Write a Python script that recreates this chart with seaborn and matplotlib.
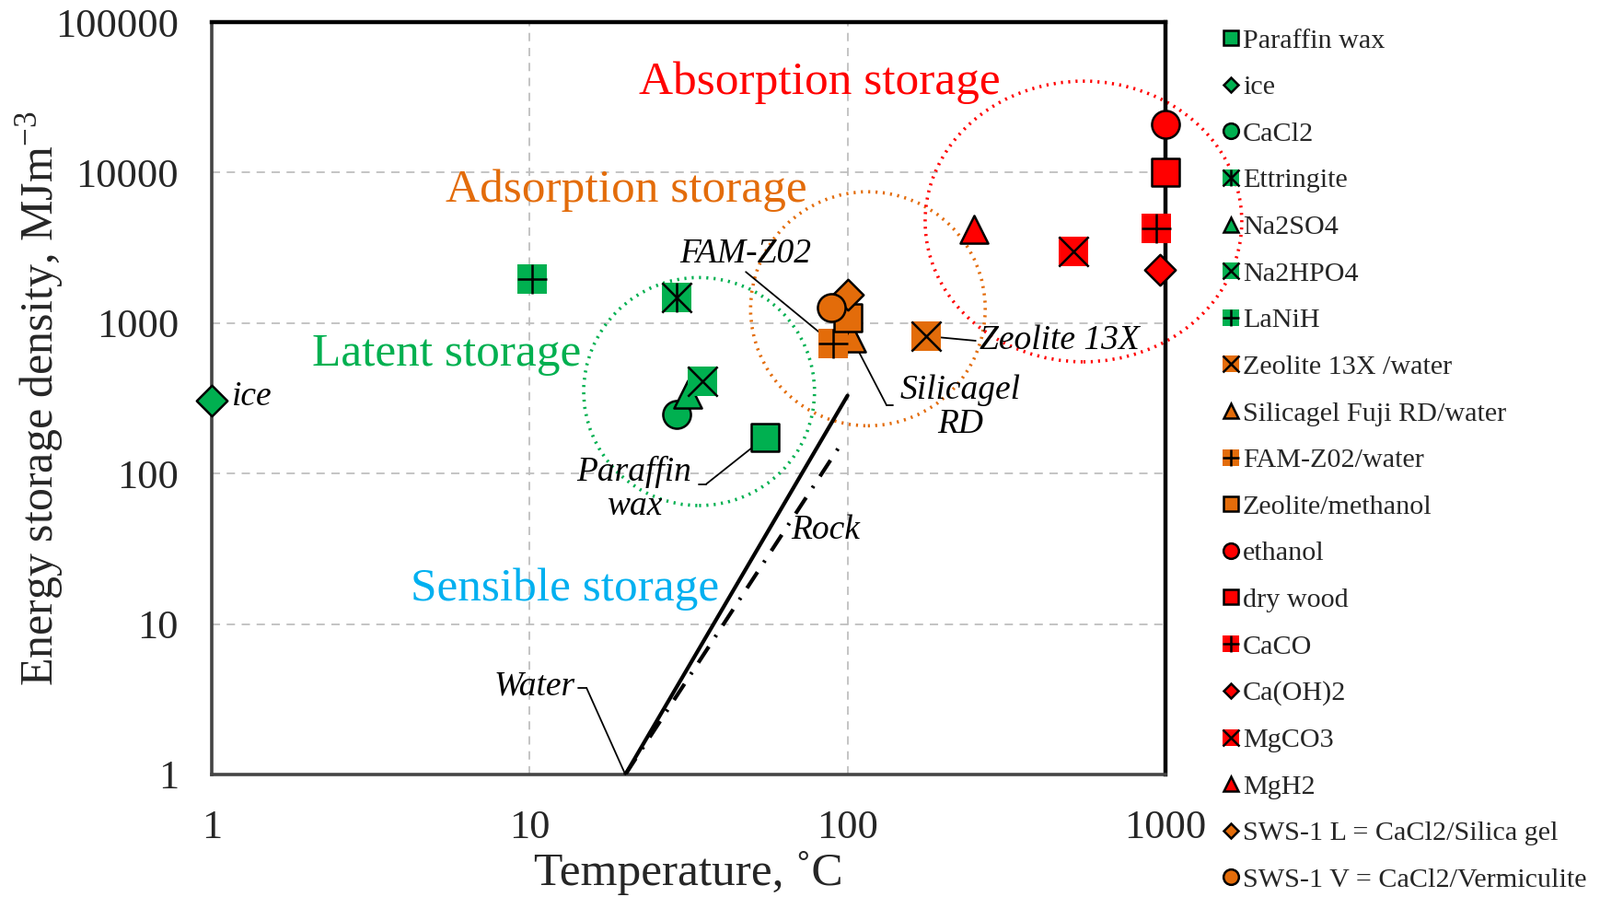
import matplotlib
matplotlib.use("Agg")
import matplotlib.pyplot as plt
import seaborn as sns
import pandas as pd
import numpy as np
from matplotlib.patches import Ellipse
from matplotlib.lines import Line2D
from matplotlib.ticker import FixedLocator, FuncFormatter, NullLocator

# ---------------- data ----------------
names = ["Paraffin wax", "ice", "CaCl2", "Ettringite", "Na2SO4", "Na2HPO4", "LaNiH",
         "Zeolite 13X /water", "Silicagel Fuji RD/water", "FAM-Z02/water", "Zeolite/methanol",
         "ethanol", "dry wood", "CaCO", "Ca(OH)2", "MgCO3", "MgH2",
         "SWS-1 L = CaCl2/Silica gel", "SWS-1 V = CaCl2/Vermiculite"]
temperature = [55, 1, 29, 29, 31.4, 35, 10.2,
               177, 103, 90, 100,
               1000, 1000, 936, 961, 514, 250,
               100, 89]
density = [174, 306, 247, 1480, 337, 410, 1950,
           819, 797, 731, 1085,
           20900, 10050, 4260, 2258, 2994, 4200,
           1545, 1268]
group = ["latent", "latent", "latent", "latent", "latent", "latent", "latent",
         "adsorption", "adsorption", "adsorption", "adsorption",
         "absorption", "absorption", "absorption", "absorption", "absorption", "absorption",
         "adsorption", "adsorption"]
shape = ["square", "diamond", "circle", "square_xv", "triangle", "square_x", "square_plus",
         "square_x", "triangle", "square_plus", "square",
         "circle", "square", "square_plus", "diamond", "square_x", "triangle",
         "diamond", "circle"]

water_T = [20, 100]
water_E = [1, 330]
rock_T = [20, 95]
rock_E = [1, 155]

x_ticks = [1, 10, 100, 1000]
y_ticks = [1, 10, 100, 1000, 10000, 100000]

df = pd.DataFrame({"name": names, "T": temperature, "E": density,
                   "group": group, "shape": shape})

# ---------------- style ----------------
colors = {"latent": "#00B050", "adsorption": "#E36C0A", "absorption": "#FF0000"}
BLUE = "#00B0F0"

sns.set_theme(style="white")
plt.rcParams["font.family"] = ["Liberation Serif", "DejaVu Serif"]
plt.rcParams["mathtext.fontset"] = "custom"
plt.rcParams["mathtext.rm"] = "Liberation Serif"
plt.rcParams["mathtext.it"] = "Liberation Serif:italic"

fig = plt.figure(figsize=(17.38, 9.74), dpi=100)
ax = fig.add_axes([230 / 1738, 1 - 841 / 974, (1266 - 230) / 1738, (841 - 24) / 974])

ax.set_xscale("log")
ax.set_yscale("log")
ax.set_xlim(1, 1000)
ax.set_ylim(1, 100000)

# grid / ticks
ax.xaxis.set_major_locator(FixedLocator(x_ticks))
ax.yaxis.set_major_locator(FixedLocator(y_ticks))
ax.xaxis.set_minor_locator(NullLocator())
ax.yaxis.set_minor_locator(NullLocator())
fmt = FuncFormatter(lambda v, p: f"{int(round(v))}")
ax.xaxis.set_major_formatter(fmt)
ax.yaxis.set_major_formatter(fmt)
ax.grid(True, which="major", color="#BFBFBF", linestyle=(0, (5, 4)), linewidth=1.3)
ax.set_axisbelow(True)
ax.tick_params(axis="both", length=0, labelsize=32)
ax.tick_params(axis="y", pad=26)
ax.tick_params(axis="x", pad=27)

for side in ["top", "right"]:
    ax.spines[side].set_color("black")
    ax.spines[side].set_linewidth(3.2)
for side in ["left", "bottom"]:
    ax.spines[side].set_color("#444444")
    ax.spines[side].set_linewidth(2.6)

# sensible storage lines
sns.lineplot(x=water_T, y=water_E, ax=ax, color="black", linewidth=3.0, zorder=3)
sns.lineplot(x=rock_T, y=rock_E, ax=ax, color="black", linewidth=3.0,
             linestyle=(0, (5, 3, 0.6, 3)), zorder=3)

# markers
S = 470
base_marker = {"square": "s", "diamond": "D", "circle": "o", "triangle": "^",
               "square_x": "s", "square_plus": "s", "square_xv": "s"}
size_map = {"square": S, "diamond": 290, "circle": S, "triangle": S,
            "square_x": 540, "square_plus": 540, "square_xv": 540}
overlay_map = {"square_x": ["x"], "square_plus": ["+"], "square_xv": ["x", "|"]}

for i, row in df.iterrows():
    sub = df.iloc[[i]]
    c = colors[row["group"]]
    shp = row["shape"]
    m = base_marker[shp]
    if shp.startswith("square_"):
        sns.scatterplot(data=sub, x="T", y="E", marker="s", s=size_map[shp], color=c,
                        edgecolor=c, linewidth=0.0, ax=ax, legend=False, zorder=4 + i * 0.01,
                        clip_on=False)
        for om in overlay_map[shp]:
            sns.scatterplot(data=sub, x="T", y="E", marker=om, s=size_map[shp], color="black",
                            linewidth=1.8, ax=ax, legend=False, zorder=4 + i * 0.01 + 0.005,
                            clip_on=False)
    else:
        sns.scatterplot(data=sub, x="T", y="E", marker=m, s=size_map[shp], color=c,
                        edgecolor="black", linewidth=1.8, ax=ax, legend=False,
                        zorder=4 + i * 0.01, clip_on=False)

# dotted circles (in axes coordinates)
circ_specs = [((0.511, 0.509), 0.242, 0.303, colors["latent"]),
              ((0.688, 0.619), 0.246, 0.311, colors["adsorption"]),
              ((0.914, 0.735), 0.332, 0.373, colors["absorption"])]
for (cx, cy), w, h, c in circ_specs:
    e = Ellipse((cx, cy), w, h, transform=ax.transAxes, fill=False, edgecolor=c,
                linewidth=2.6, linestyle=(0, (0.6, 1.6)), clip_on=False, zorder=2)
    ax.add_patch(e)

# region labels
big = 37
ax.text(0.637, 0.920, "Absorption storage", transform=ax.transAxes, color=colors["absorption"],
        fontsize=big, ha="center", va="center")
ax.text(0.435, 0.776, "Adsorption storage", transform=ax.transAxes, color=colors["adsorption"],
        fontsize=big, ha="center", va="center")
ax.text(0.246, 0.558, "Latent storage", transform=ax.transAxes, color=colors["latent"],
        fontsize=big, ha="center", va="center")
ax.text(0.370, 0.246, "Sensible storage", transform=ax.transAxes, color=BLUE,
        fontsize=big, ha="center", va="center")

# italic annotations
it = dict(fontsize=27, style="italic", color="black")
lk = dict(arrowstyle="-", lw=1.3, color="black", shrinkA=0, shrinkB=0)
ax.text(0.560, 0.692, "FAM-Z02", transform=ax.transAxes, ha="center", va="center", **it)
ax.annotate("", xy=(temperature[9], density[9]), xycoords="data",
            xytext=(0.560, 0.668), textcoords="axes fraction", arrowprops=lk)

ax.text(0.785, 0.488, "Silicagel\nRD", transform=ax.transAxes, ha="center", va="center",
        linespacing=1.1, **it)
ax.annotate("", xy=(temperature[8], density[8]), xycoords="data",
            xytext=(0.7075, 0.491), textcoords="axes fraction", arrowprops=lk)
ax.plot([0.7075, 0.714], [0.491, 0.491], transform=ax.transAxes, color="black", lw=1.3)

ax.text(0.805, 0.5765, "Zeolite 13X", transform=ax.transAxes, ha="left", va="center", **it)
ax.annotate("", xy=(temperature[7], density[7]), xycoords="data",
            xytext=(0.801, 0.5765), textcoords="axes fraction", arrowprops=lk)

ax.text(0.443, 0.380, "Paraffin\nwax", transform=ax.transAxes, ha="center", va="center",
        linespacing=1.1, **it)
ax.annotate("", xy=(temperature[0], density[0]), xycoords="data",
            xytext=(0.518, 0.3856), textcoords="axes fraction", arrowprops=lk)
ax.plot([0.5106, 0.518], [0.3856, 0.3856], transform=ax.transAxes, color="black", lw=1.3)

ax.text(0.607, 0.325, "Rock", transform=ax.transAxes, ha="left", va="center", **it)

ax.text(0.338, 0.117, "Water", transform=ax.transAxes, ha="center", va="center", **it)
ax.plot([0.384, 0.393], [0.115, 0.115], transform=ax.transAxes, color="black", lw=1.3)
ax.annotate("", xy=(water_T[0], water_E[0]), xycoords="data",
            xytext=(0.393, 0.115), textcoords="axes fraction", arrowprops=lk)

ax.text(0.021, 0.502, "ice", transform=ax.transAxes, ha="left", va="center", **it)

# axis labels
ax.set_xlabel("Temperature, ˚C", fontsize=37, labelpad=4)
ax.set_ylabel(r"Energy storage density, MJm$^{\mathregular{-3}}$", fontsize=36, labelpad=-8)

# legend
handles = []
for i, row in df.iterrows():
    c = colors[row["group"]]
    shp = row["shape"]
    if shp.startswith("square_"):
        h = [Line2D([], [], marker="s", ls="none", ms=13, mfc=c, mec=c, mew=0)]
        for om in overlay_map[shp]:
            h.append(Line2D([], [], marker=om, ls="none", ms=13, color="black", mew=1.8))
        handles.append(tuple(h))
    else:
        ms = {"square": 11.5, "diamond": 8.5, "circle": 12, "triangle": 12}[shp]
        handles.append(Line2D([], [], marker=base_marker[shp], ls="none", ms=ms, mfc=c,
                              mec="black", mew=1.8))

leg = fig.legend(handles, names, loc="upper left", bbox_to_anchor=(1328 / 1738, 0.9686),
                 frameon=False, fontsize=21.7, handlelength=0.6, handletextpad=0.13,
                 labelspacing=0.78, borderpad=0, borderaxespad=0)

fig.savefig("out.png", dpi=100)
